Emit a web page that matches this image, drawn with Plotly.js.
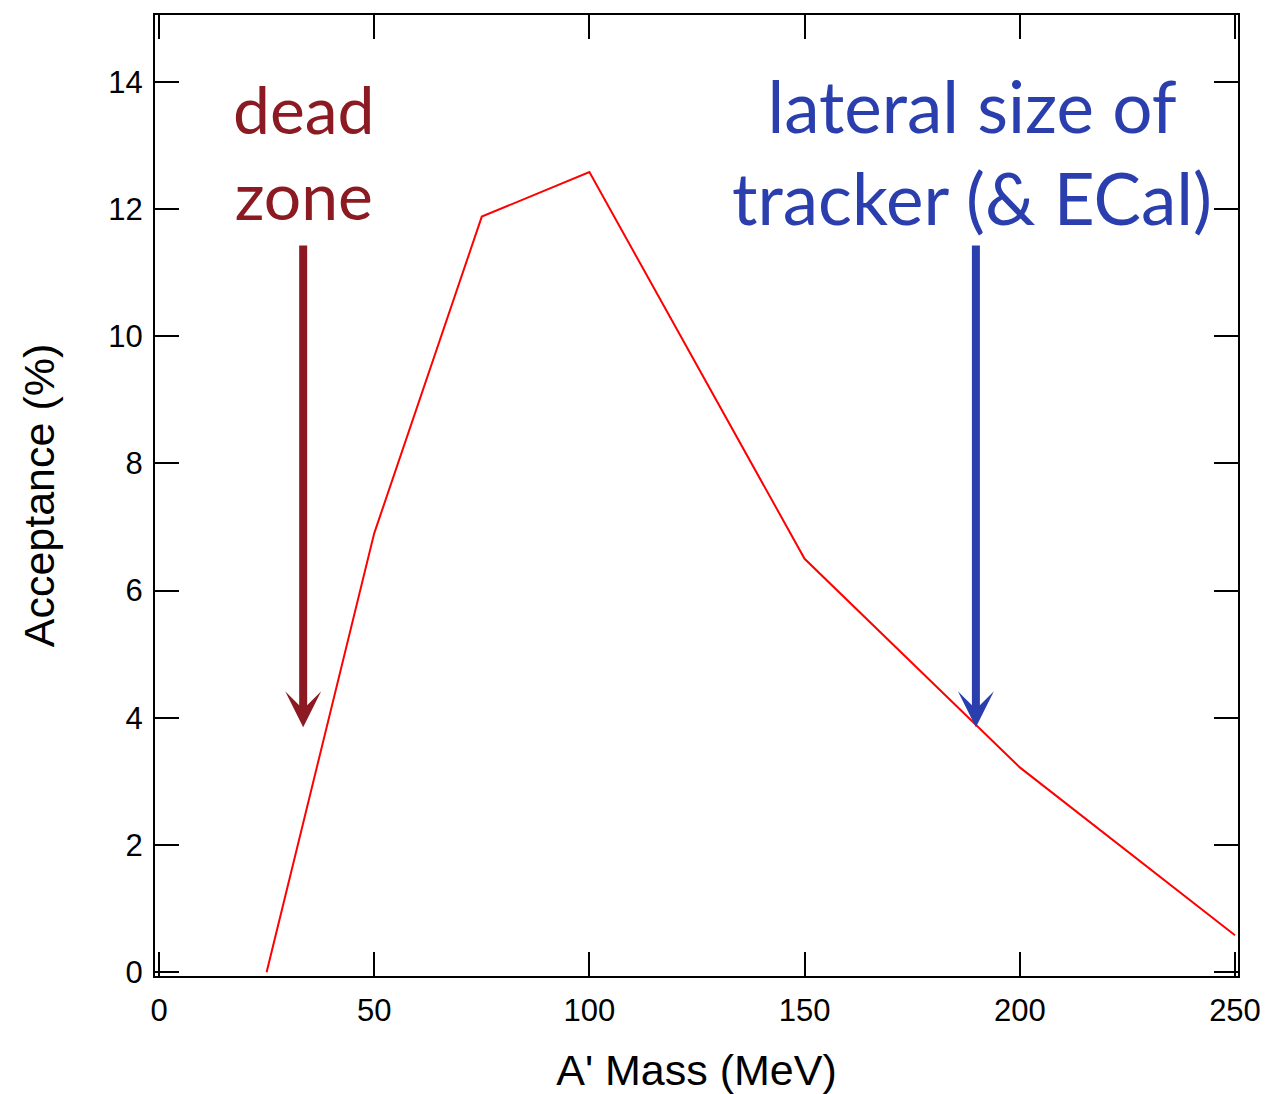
<!DOCTYPE html>
<html>
<head>
<meta charset="utf-8">
<script src="https://cdn.plot.ly/plotly-3.0.1.min.js"></script>
<style>body{margin:0;padding:0;background:#fff;} #chart{width:1266px;height:1094px;}</style>
</head>
<body>
<div id="chart"></div>
<script>
const massMeV = [25, 50, 75, 100, 150, 200, 250];
const acceptancePct = [0.0, 6.9, 11.88, 12.58, 6.5, 3.22, 0.58];
const xTicks = [0, 50, 100, 150, 200, 250];
const yTicks = [0, 2, 4, 6, 8, 10, 12, 14];
const deadZoneLabel = 'dead<br>zone';
const lateralLabel = 'lateral size of<br>tracker (&amp; ECal)';

const data = [{
  x: massMeV, y: acceptancePct, type: 'scatter', mode: 'lines',
  line: {color: '#ff0000', width: 2}, hoverinfo: 'skip'
}];

const axisCommon = {
  showline: true, linecolor: '#000', linewidth: 2, mirror: 'ticks',
  ticks: 'inside', ticklen: 24, tickwidth: 2, tickcolor: '#000',
  showgrid: false, zeroline: false,
  tickfont: {family: 'Liberation Sans, Arial, sans-serif', size: 31, color: '#000'}
};

const layout = {
  width: 1266, height: 1094,
  margin: {l: 155, r: 28, t: 15, b: 118},
  paper_bgcolor: '#fff', plot_bgcolor: '#fff',
  showlegend: false,
  xaxis: Object.assign({}, axisCommon, {
    range: [-0.93, 250.7], tickvals: xTicks, ticktext: xTicks.map(String),
    ticklabelstandoff: 6,
    title: {text: "A' Mass (MeV)", font: {family: 'Liberation Sans, Arial, sans-serif', size: 43, color: '#000'}, standoff: 30}
  }),
  yaxis: Object.assign({}, axisCommon, {
    range: [-0.06, 15.05], tickvals: yTicks, ticktext: yTicks.map(String),
    ticklabelstandoff: 4,
    title: {text: 'Acceptance (%)', font: {family: 'Liberation Sans, Arial, sans-serif', size: 43, color: '#000'}, standoff: 40}
  }),
  annotations: [
    {x: 33.5, y: 3.85, ax: 33.5, ay: 11.45, axref: 'x', ayref: 'y', xref: 'x', yref: 'y',
     text: '', showarrow: true, arrowhead: 3, arrowsize: 0.75, arrowwidth: 8, arrowcolor: '#8b1a22'},
    {x: 189.8, y: 3.85, ax: 189.8, ay: 11.45, axref: 'x', ayref: 'y', xref: 'x', yref: 'y',
     text: '', showarrow: true, arrowhead: 3, arrowsize: 0.75, arrowwidth: 8, arrowcolor: '#2a3eae'},
    {x: 33.7, y: 12.9, xref: 'x', yref: 'y', text: deadZoneLabel, showarrow: false,
     xanchor: 'center', yanchor: 'middle', align: 'center',
     font: {family: 'Lato, Open Sans, sans-serif', size: 66, color: '#8b1a22'}},
    {x: 189, y: 12.9, xref: 'x', yref: 'y', text: lateralLabel, showarrow: false,
     xanchor: 'center', yanchor: 'middle', align: 'center',
     font: {family: 'Lato, Open Sans, sans-serif', size: 71, color: '#2a3eae'}}
  ]
};

Plotly.newPlot('chart', data, layout, {displayModeBar: false, staticPlot: true});
</script>
</body>
</html>
